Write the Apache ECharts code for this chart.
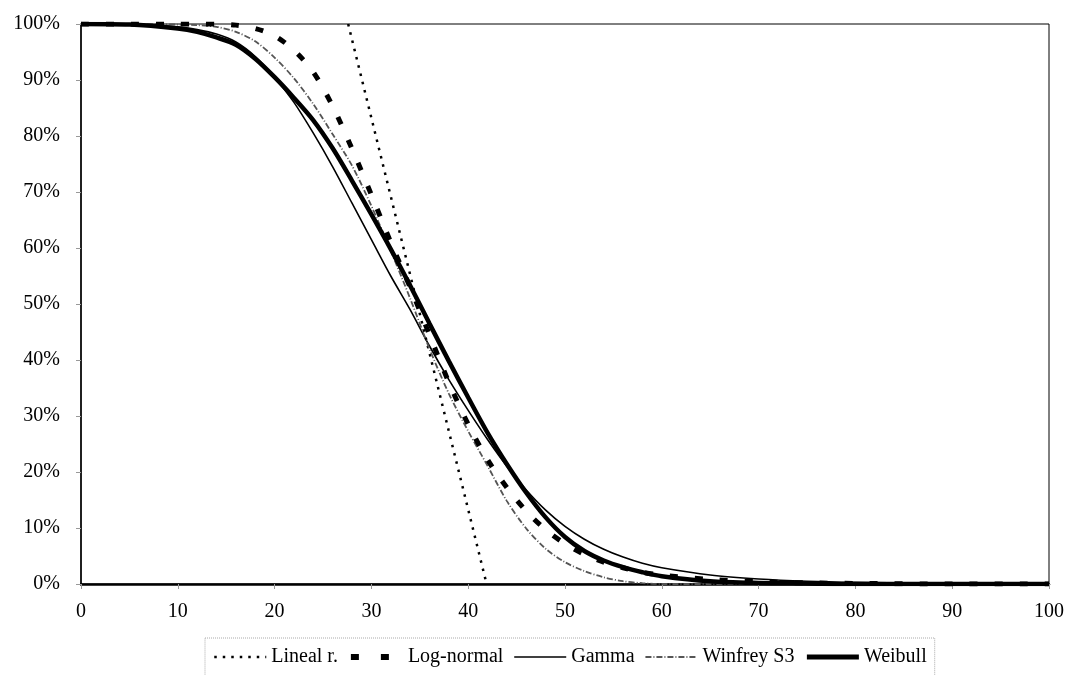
<!DOCTYPE html>
<html style="height: 100%; width:100%">
<head>
    <meta charset="utf-8">
    <script type="text/javascript" src="https://cdn.jsdelivr.net/npm/echarts@6/dist/echarts.min.js"></script>
</head>
<body style="height: 100%; width: 100%; margin: 0; background:#fff;">
<div id="container" style="width:1070px;height:675px"></div>
<script type="text/javascript">
    // ages (x) shared by the fitted curves
    var ages = [0, 5, 10, 12, 14, 16, 18, 20, 22, 24, 26, 28, 30, 32, 34, 36, 38, 40, 42, 44, 46, 48, 50, 52, 54, 56, 58, 60, 65, 70, 75, 80, 90, 100];

    // survival in %
    var logNormal = [100, 100, 100, 100, 100, 99.8, 99.2, 97.9, 95.3, 91.4, 85.3, 77.7, 69.5, 61, 53, 44.5, 36, 28.5, 22.2, 17.2, 13, 9.7, 7.2, 5.3, 3.9, 2.9, 2.1, 1.6, 0.8, 0.4, 0.2, 0.1, 0, 0];
    var gamma = [100, 99.9, 99.5, 99, 98.2, 96.8, 94.2, 90.5, 86, 80.5, 74.5, 68, 61.5, 55, 49, 42.5, 36.5, 31, 25.8, 21, 16.8, 13.2, 10.3, 8, 6.2, 4.8, 3.7, 2.9, 1.6, 0.9, 0.5, 0.3, 0.1, 0];
    var winfrey = [100, 100, 99.9, 99.8, 99.5, 98.6, 96.9, 94, 90.3, 85.7, 80.3, 74.7, 67.5, 59.5, 51, 42, 34, 27.3, 21.1, 14.8, 9.9, 6.3, 3.9, 2.3, 1.2, 0.5, 0.15, 0, 0, 0, 0, 0, 0, 0];
    var weibull = [100, 99.9, 99.2, 98.6, 97.6, 96.3, 93.8, 90.5, 86.8, 82.8, 77.8, 72, 66, 59.8, 53.3, 46.5, 39.8, 33.3, 27, 21.4, 16.3, 11.9, 8.4, 5.9, 4.2, 3, 2.1, 1.4, 0.5, 0.2, 0.1, 0, 0, 0];

    // straight line (Lineal r.)
    var linealX = [27.6, 41.9];
    var linealY = [100, 0];

    var xTicks = [0, 100, 10];
    var yTicks = [0, 100, 10];

    function zip(xs, ys) {
        var out = [];
        for (var i = 0; i < xs.length; i++) out.push([xs[i], ys[i]]);
        return out;
    }

    var serif = "Liberation Serif, Times New Roman, serif";
    var myChart = echarts.init(document.getElementById("container"));

    var noDot = { color: "rgba(0,0,0,0)", borderWidth: 0 };

    var option = {
        animation: false,
        backgroundColor: "#fff",
        grid: {
            show: true,
            left: 81, right: 21, top: 24, bottom: 91,
            borderColor: "#000", borderWidth: 1
        },
        legend: {
            left: 205, top: 638,
            padding: [9, 8],
            itemWidth: 52, itemHeight: 14, itemGap: 10,
            borderColor: "#aaa", borderWidth: 1, borderType: "dotted",
            itemStyle: noDot,
            textStyle: { fontFamily: serif, fontSize: 20, color: "#000" },
            data: [
                { name: "Lineal r.", lineStyle: { width: 2.5, type: [2.5, 6] } },
                { name: "Log-normal", lineStyle: { width: 6, type: [8, 22], cap: "butt" } },
                { name: "Gamma", lineStyle: { width: 1.6 } },
                { name: "Winfrey S3", lineStyle: { width: 1.8, type: [6, 2, 1, 2] } },
                { name: "Weibull", lineStyle: { width: 5 } }
            ]
        },
        xAxis: {
            type: "value",
            min: xTicks[0], max: xTicks[1], interval: xTicks[2],
            axisLine: { lineStyle: { color: "#000", width: 2.5 } },
            axisTick: { length: 5, lineStyle: { color: "#999" } },
            splitLine: { show: false },
            axisLabel: { margin: 18, fontFamily: serif, fontSize: 20, color: "#000" }
        },
        yAxis: {
            type: "value",
            min: yTicks[0], max: yTicks[1], interval: yTicks[2],
            axisLine: { show: true, lineStyle: { color: "#000", width: 1.5 } },
            axisTick: { show: true, length: 5, lineStyle: { color: "#999" } },
            splitLine: { show: false },
            axisLabel: { margin: 21, fontFamily: serif, fontSize: 20, color: "#000", formatter: "{value}%" }
        },
        series: [
            {
                name: "Lineal r.", type: "line", showSymbol: false, symbol: "none",
                data: zip(linealX, linealY),
                itemStyle: noDot,
                lineStyle: { color: "#000", width: 2.5, type: [2.5, 6] }
            },
            {
                name: "Gamma", type: "line", showSymbol: false, symbol: "none", smooth: 0.3,
                data: zip(ages, gamma),
                itemStyle: noDot,
                lineStyle: { color: "#000", width: 1.6 }
            },
            {
                name: "Winfrey S3", type: "line", showSymbol: false, symbol: "none", smooth: 0.3,
                data: zip(ages, winfrey),
                itemStyle: noDot,
                lineStyle: { color: "#555", width: 1.8, type: [6, 2, 1, 2] }
            },
            {
                name: "Weibull", type: "line", showSymbol: false, symbol: "none", smooth: 0.3,
                data: zip(ages, weibull),
                itemStyle: noDot,
                lineStyle: { color: "#000", width: 4.5 }
            },
            {
                name: "Log-normal", type: "line", showSymbol: false, symbol: "none", smooth: 0.3,
                data: zip(ages, logNormal),
                itemStyle: noDot,
                lineStyle: { color: "#000", width: 5, type: [8, 17], cap: "butt" }
            }
        ]
    };
    myChart.setOption(option, true);
</script>
</body>
</html>
